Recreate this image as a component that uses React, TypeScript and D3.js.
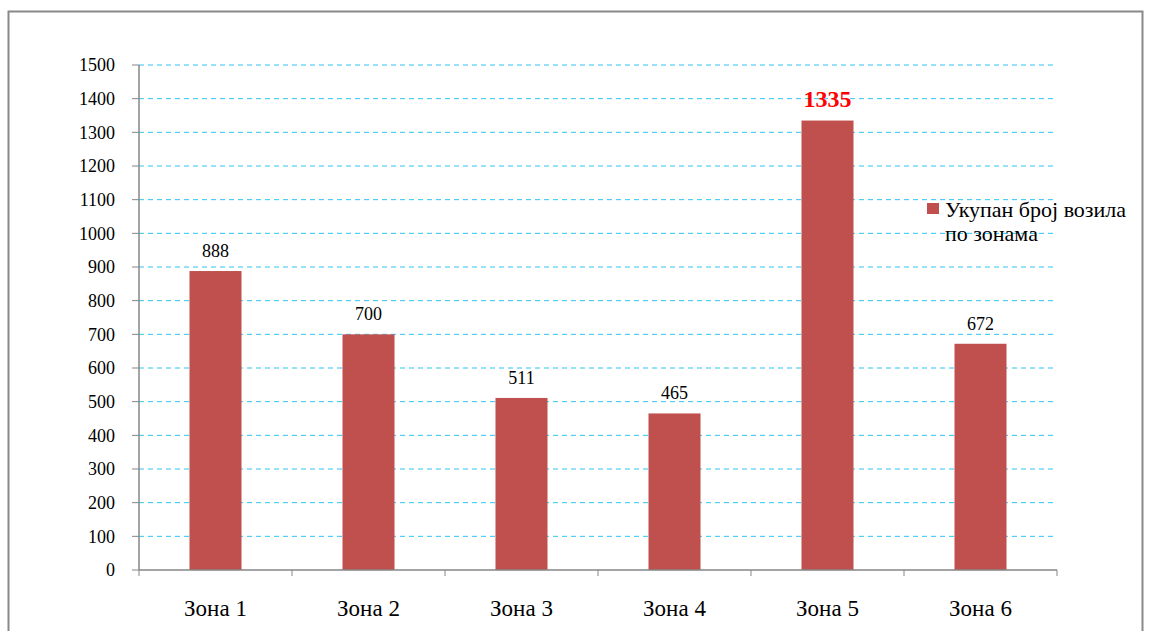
import React from "react";
import * as d3 from "d3";

const categories = ["Зона 1", "Зона 2", "Зона 3", "Зона 4", "Зона 5", "Зона 6"];
const values = [888, 700, 511, 465, 1335, 672];
const yTicks = [0, 100, 200, 300, 400, 500, 600, 700, 800, 900, 1000, 1100, 1200, 1300, 1400, 1500];
const highlightIndex = 4;
const legendLines = ["Укупан број возила", "по зонама"];

export default function App() {
  const W = 1151, H = 631;
  const left = 139, right = 1057, top = 65, bottom = 570;
  const x = d3.scaleBand<string>().domain(categories).range([left, right]).paddingInner(0.66).paddingOuter(0.33);
  const xb = d3.scaleBand<string>().domain(categories).range([left, right]);
  const y = d3.scaleLinear().domain([0, 1500]).range([bottom, top]);
  const font = "'Liberation Serif', 'Times New Roman', serif";
  return (
    <svg width={W} height={H} style={{ position: "absolute", left: 0, top: 0 }} fontFamily={font}>
      <rect x={0} y={0} width={W} height={H} fill="#fff" />
      <rect x={8.5} y={11.5} width={1134} height={640} fill="none" stroke="#898989" strokeWidth={2} />
      {yTicks.map((t) => (
        <g key={t}>
          {t > 0 && (
            <line x1={left} x2={right} y1={y(t)} y2={y(t)} stroke="#2EC4F4" strokeWidth={1} strokeDasharray="5,4" />
          )}
          <line x1={left - 7} x2={left} y1={y(t)} y2={y(t)} stroke="#868686" strokeWidth={1} />
          <text x={115} y={y(t)} dy="0.35em" textAnchor="end" fontSize={18} fill="#000">{t}</text>
        </g>
      ))}
      {categories.map((c, i) => (
        <g key={c}>
          <rect x={x(c)} y={y(values[i])} width={x.bandwidth()} height={bottom - y(values[i])} fill="#C0504D" />
          <text
            x={(x(c) as number) + x.bandwidth() / 2}
            y={y(values[i]) - 14}
            textAnchor="middle"
            fontSize={i === highlightIndex ? 24 : 18}
            fontWeight={i === highlightIndex ? "bold" : "normal"}
            fill={i === highlightIndex ? "#FF0000" : "#000"}
          >
            {values[i]}
          </text>
          <text x={(xb(c) as number) + xb.bandwidth() / 2} y={616} textAnchor="middle" fontSize={23} fill="#000">{c}</text>
          <line x1={(xb(c) as number) + xb.bandwidth()} x2={(xb(c) as number) + xb.bandwidth()} y1={bottom} y2={bottom + 6} stroke="#868686" />
        </g>
      ))}
      <line x1={left} x2={left} y1={bottom + 6} y2={bottom} stroke="#868686" />
      <line x1={left} x2={left} y1={top} y2={bottom} stroke="#868686" strokeWidth={1.5} />
      <line x1={left} x2={right} y1={bottom} y2={bottom} stroke="#868686" strokeWidth={1.5} />
      <rect x={927} y={203} width={12} height={11} fill="#C0504D" />
      {legendLines.map((l, i) => (
        <text key={l} x={945} y={217 + i * 24} fontSize={22} fill="#000">{l}</text>
      ))}
    </svg>
  );
}
